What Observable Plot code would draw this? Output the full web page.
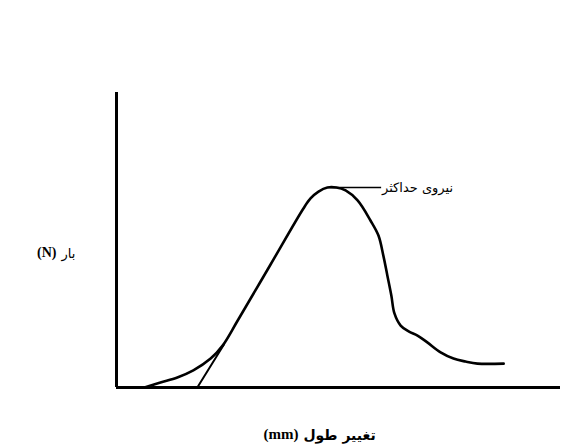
<!DOCTYPE html>
<html>
<head>
<meta charset="utf-8">
<script src="https://cdn.jsdelivr.net/npm/d3@7"></script>
<script src="https://cdn.jsdelivr.net/npm/@observablehq/plot@0.6"></script>
<style>
  html, body { margin: 0; padding: 0; background: #fff; }
</style>
</head>
<body>
<div id="chart"></div>
<script>
// Load–elongation curve (arbitrary units)
const elongation = [6.3, 9.9, 13.7, 17.3, 21.2, 23.9, 27.3, 34.7, 42.1, 43.7, 45.5, 47.5, 49.5, 51.6, 54.3, 57.2, 59.0, 60.1, 61.0, 61.9, 62.6, 64.0, 65.8, 67.8, 70.0, 73.0, 75.9, 78.6, 81.3, 87.2];
const load       = [0.0, 1.7, 3.4, 5.8, 9.8, 14.2, 22.7, 41.7, 60.7, 64.1, 66.4, 67.8, 67.8, 66.8, 63.4, 56.6, 51.5, 44.7, 38.0, 31.2, 25.1, 21.0, 19.0, 17.6, 15.3, 11.9, 9.8, 8.8, 8.1, 8.1];

// Tangent (offset) line
const tangentX = [18.2, 24.2];
const tangentY = [0, 14.6];

// Max-force annotation
const maxLabel = "نیروی حداکثر";
const maxLineX = [48.2, 59.6];
const maxLoad = 67.8;
const maxLabelX = 67.8;

// Axis labels (Persian word + unit)
const yLabelFa = "بار";
const yLabelUnit = "(N)";
const xLabelFa = "تغییر طول";
const xLabelUnit = "(mm)";

const curve = elongation.map((x, i) => ({x, y: load[i]}));
const tangent = tangentX.map((x, i) => ({x, y: tangentY[i]}));

const faFont = "DejaVu Sans";
const latinFont = "Liberation Serif";

const chart = Plot.plot({
  width: 562,
  height: 446,
  marginLeft: 116,
  marginRight: 2,
  marginTop: 92,
  marginBottom: 59,
  x: {domain: [0, 100], axis: null},
  y: {domain: [0, 100], axis: null},
  style: {background: "#fff"},
  marks: [
    Plot.ruleX([0], {y1: 0, y2: 100, stroke: "#000", strokeWidth: 3}),
    Plot.ruleY([0], {x1: 0, x2: 100, stroke: "#000", strokeWidth: 3}),
    Plot.line(tangent, {x: "x", y: "y", stroke: "#000", strokeWidth: 2}),
    Plot.line(curve, {x: "x", y: "y", stroke: "#000", strokeWidth: 2.6, curve: "catmull-rom"}),
    Plot.link([maxLoad], {x1: maxLineX[0], x2: maxLineX[1], y1: d => d, y2: d => d, stroke: "#000", strokeWidth: 1.6}),
    Plot.text([maxLabel], {x: maxLabelX, y: maxLoad, text: d => d, fontSize: 13, fontFamily: faFont, fill: "#000"}),
    // y label: "(N)" on the left, Persian word on the right (RTL reading)
    Plot.text([yLabelUnit], {x: -13.3, y: 45.8, text: d => d, textAnchor: "end", dx: -1, fontSize: 14, fontWeight: "bold", fontFamily: latinFont, fill: "#000"}),
    Plot.text([yLabelFa], {x: -13.3, y: 45.8, text: d => d, textAnchor: "start", dx: 4, dy: 1, fontSize: 13, fontFamily: faFont, fill: "#000"}),
    // x label: "(mm)" on the left, Persian words on the right
    Plot.text([xLabelUnit], {x: 41.2, y: -15.9, text: d => d, textAnchor: "end", dx: -1, fontSize: 15, fontWeight: "bold", fontFamily: latinFont, fill: "#000"}),
    Plot.text([xLabelFa], {x: 41.2, y: -15.9, text: d => d, textAnchor: "start", dx: 4, dy: 1, fontSize: 14, fontWeight: "bold", fontFamily: faFont, fill: "#000"})
  ]
});
document.getElementById("chart").appendChild(chart);
</script>
</body>
</html>
